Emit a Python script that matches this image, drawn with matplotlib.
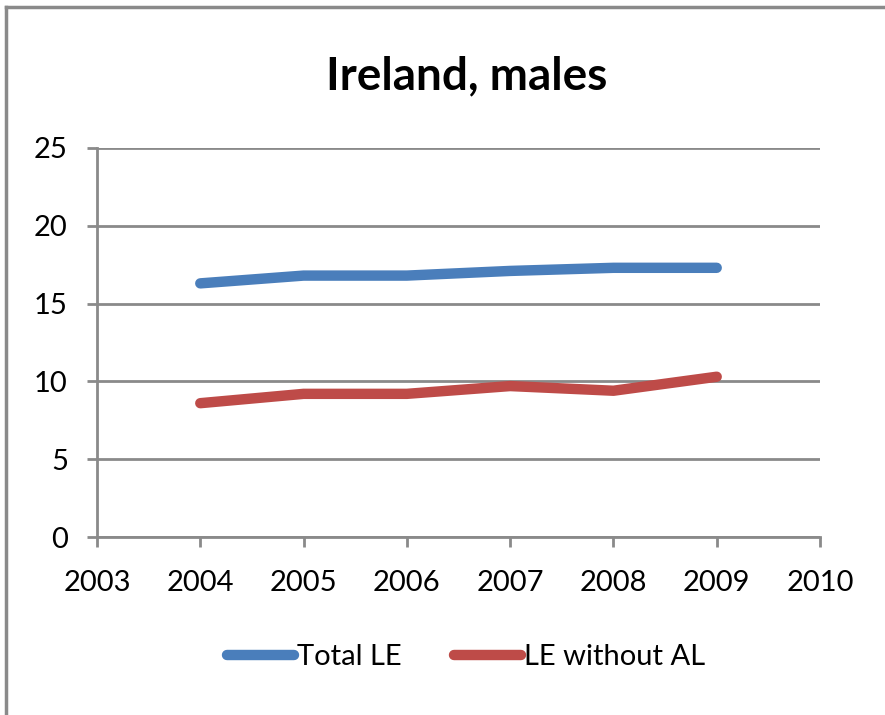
import matplotlib
matplotlib.use("Agg")
import matplotlib.pyplot as plt
from matplotlib.lines import Line2D

# data
years = [2004, 2005, 2006, 2007, 2008, 2009]
total_le = [16.3, 16.8, 16.8, 17.1, 17.3, 17.3]
le_without_al = [8.6, 9.2, 9.2, 9.7, 9.4, 10.3]
series_names = ["Total LE", "LE without AL"]
title = "Ireland, males"
x_ticks = [2003, 2004, 2005, 2006, 2007, 2008, 2009, 2010]
y_ticks = [0, 5, 10, 15, 20, 25]

plt.rcParams['font.family'] = ['Lato', 'DejaVu Sans']
grey = '#8a8a8a'

fig = plt.figure(figsize=(8.85, 7.15), dpi=100)
ax = fig.add_axes([97 / 885, 1 - 537 / 715, (820 - 97) / 885, (537 - 148) / 715])

ax.plot(years, total_le, color='#4a7ebb', lw=7.5, solid_capstyle='round', label=series_names[0])
ax.plot(years, le_without_al, color='#be4b48', lw=7.5, solid_capstyle='round', label=series_names[1])

ax.set_xlim(2003, 2010)
ax.set_ylim(0, 25)
ax.set_xticks(x_ticks)
ax.set_yticks(y_ticks)
ax.grid(axis='y', color=grey, lw=2)
ax.set_axisbelow(True)
for s in ['top', 'right']:
    ax.spines[s].set_visible(False)
for s in ['left', 'bottom']:
    ax.spines[s].set_color(grey)
    ax.spines[s].set_linewidth(2)
ax.tick_params(axis='both', colors=grey, width=2, length=7, labelcolor='black', labelsize=21)
ax.tick_params(axis='x', pad=17)
ax.tick_params(axis='y', pad=14)

fig.text(0.527, 0.893, title, ha='center', va='center', fontsize=33, fontweight='bold')

fig.legend(loc='center', bbox_to_anchor=(0.527, 0.081), ncol=2, frameon=False,
           fontsize=21, handlelength=2.3, handletextpad=0.1, columnspacing=1.8)

# outer chart border
fig.add_artist(Line2D([6 / 885, 6 / 885], [0, 1 - 7 / 715], color=grey, lw=2.5,
                      transform=fig.transFigure))
fig.add_artist(Line2D([6 / 885, 1], [1 - 7 / 715, 1 - 7 / 715], color=grey, lw=2.5,
                      transform=fig.transFigure))

fig.savefig("out.png", dpi=100)
